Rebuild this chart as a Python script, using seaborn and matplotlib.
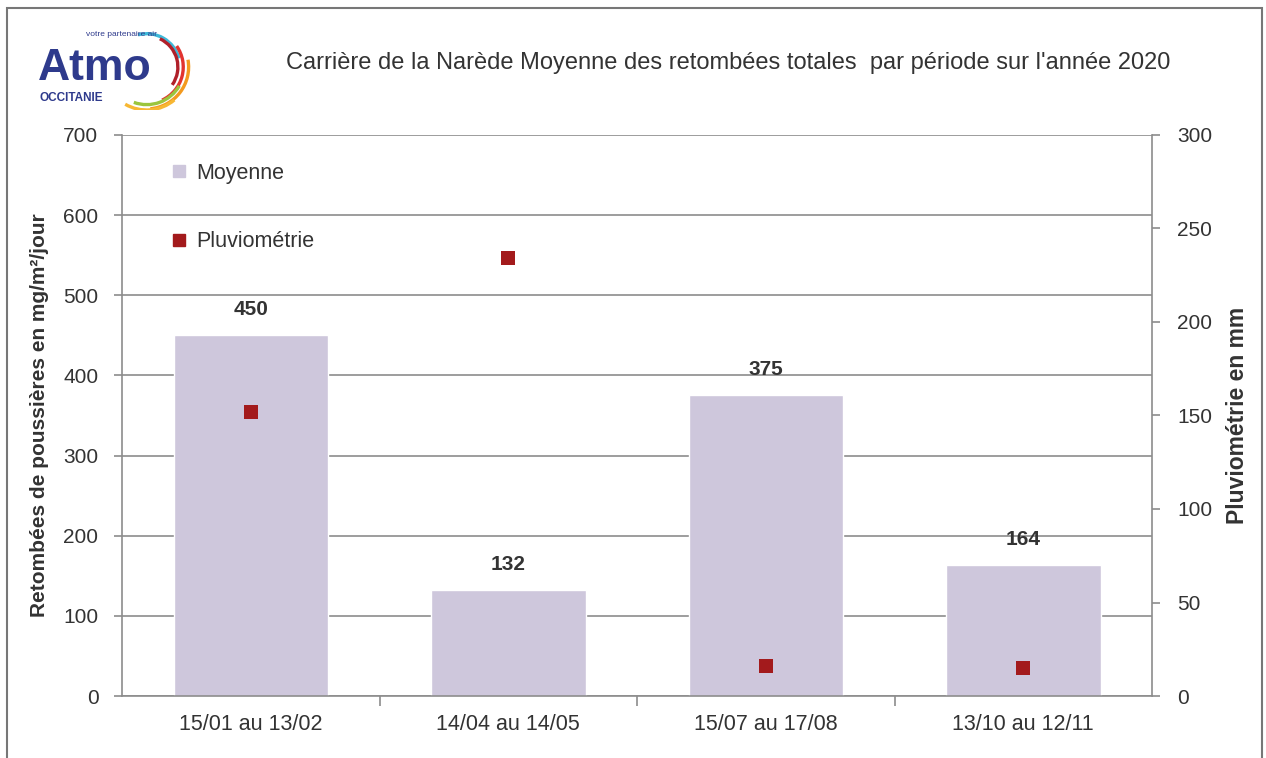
import numpy as np
import pandas as pd
import matplotlib.pyplot as plt
import seaborn as sns
from matplotlib.patches import Arc, Rectangle
from matplotlib.lines import Line2D

# Data
periodes = ["15/01 au 13/02", "14/04 au 14/05", "15/07 au 17/08", "13/10 au 12/11"]
moyenne = [450, 132, 375, 164]
pluviometrie = [152, 234, 16, 15]

BAR_COLOR = "#CEC7DC"
RAIN_COLOR = "#A31A1C"
AXIS_GREY = "#8C8C8C"
TEXT_GREY = "#333333"

sns.set_theme(style="white")
plt.rcParams['font.family'] = ['Liberation Sans', 'DejaVu Sans']

df = pd.DataFrame({"periode": periodes, "moyenne": moyenne, "pluie": pluviometrie})

fig = plt.figure(figsize=(12.66, 7.58), dpi=100)
ax = fig.add_axes([122 / 1266, 1 - 696 / 758, (1152 - 122) / 1266, (696 - 135) / 758])

sns.barplot(data=df, x="periode", y="moyenne", color=BAR_COLOR, width=0.6,
            saturation=1, ax=ax, zorder=2)
ax.set_ylim(0, 700)
ax.set_yticks(range(0, 701, 100))
ax.set_axisbelow(True)
ax.yaxis.grid(True, color=AXIS_GREY, linewidth=1.2)
ax.xaxis.grid(False)
ax.set_xlim(-0.5, 3.5)
for s in ["top", "right"]:
    ax.spines[s].set_visible(False)
for s in ["left", "bottom"]:
    ax.spines[s].set_color(AXIS_GREY)
    ax.spines[s].set_linewidth(1.2)

# category boundary ticks on the x axis
ax.set_xticks([0.5, 1.5, 2.5], minor=True)
ax.tick_params(axis="x", which="major", length=0, labelsize=15.5, labelcolor=TEXT_GREY, pad=13)
ax.tick_params(axis="x", which="minor", length=7, color=AXIS_GREY, width=1.2, direction="out", bottom=True)
ax.tick_params(axis="y", length=6, color=AXIS_GREY, width=1.2, direction="out", left=True,
               labelsize=15, labelcolor=TEXT_GREY, pad=11)
ax.set_xlabel("")
ax.set_ylabel("Retombées de poussières en mg/m²/jour", fontsize=15, fontweight="bold",
              color=TEXT_GREY, labelpad=10)

for i, v in enumerate(moyenne):
    ax.text(i, v + 20, str(v), ha="center", va="bottom", fontsize=15, fontweight="bold", color=TEXT_GREY)

ax2 = ax.twinx()
sns.scatterplot(x=np.arange(len(periodes)), y=pluviometrie, marker="s", s=95, color=RAIN_COLOR,
                edgecolor=RAIN_COLOR, linewidth=0, ax=ax2, zorder=5)
ax2.set_ylim(0, 300)
ax2.set_yticks(range(0, 301, 50))
ax2.set_xlim(-0.5, 3.5)
for s in ["top", "left", "bottom"]:
    ax2.spines[s].set_visible(False)
ax2.spines["right"].set_color(AXIS_GREY)
ax2.spines["right"].set_linewidth(1.2)
ax2.tick_params(axis="y", length=6, color=AXIS_GREY, width=1.2, direction="out", right=True,
                labelsize=15, labelcolor=TEXT_GREY, pad=12)
ax2.set_ylabel("Pluviométrie en mm", fontsize=16.5, fontweight="bold", color=TEXT_GREY, labelpad=10)
ax2.grid(False)

handles = [
    Line2D([], [], marker="s", linestyle="", markersize=8, color=BAR_COLOR),
    Line2D([], [], marker="s", linestyle="", markersize=8, color=RAIN_COLOR),
]
leg = ax2.legend(handles, ["Moyenne", "Pluviométrie"], loc="upper left", bbox_to_anchor=(0.03, 0.985),
                 frameon=False, fontsize=15.5, labelspacing=2.2, handlelength=0.6, handletextpad=0.5,
                 labelcolor=TEXT_GREY)

fig.text(728 / 1266, 1 - 63 / 758, "Carrière de la Narède Moyenne des retombées totales  par période sur l'année 2020",
         ha="center", va="center", fontsize=17, color=TEXT_GREY)

# Atmo Occitanie logo (approximation)
fig.text(38 / 1266, 1 - 68 / 758, "Atmo", ha="left", va="center", fontsize=32, fontweight="bold",
         color="#2E3A8C")
fig.text(40 / 1266, 1 - 98 / 758, "OCCITANIE", ha="left", va="center", fontsize=8.5, fontweight="bold",
         color="#2E3A8C")
fig.text(86 / 1266, 1 - 35 / 758, "votre partenaire air", ha="left", va="center", fontsize=6,
         color="#2E3A8C")
logo = fig.add_axes([108 / 1266, 1 - 110 / 758, 86 / 1266, 86 / 758])
logo.set_xlim(-1, 1)
logo.set_ylim(-1, 1)
logo.axis("off")
arcs = [
    (1.55, 15, 105, "#3EB8D8"),
    (1.45, -35, 65, "#B0202A"),
    (1.70, -65, 35, "#E2342F"),
    (1.95, -85, 10, "#F39A1F"),
    (1.75, -110, -30, "#9BC53D"),
    (2.00, -120, -50, "#F7B733"),
]
for d, t1, t2, c in arcs:
    logo.add_patch(Arc((-0.1, 0.0), d, d, theta1=t1, theta2=t2, color=c, linewidth=2.4))

# picture frame
fig.patches.append(Rectangle((7 / 1266, -0.05), (1262 - 7) / 1266, 1.05 - 8 / 758,
                             transform=fig.transFigure, fill=False, edgecolor="#777777", linewidth=1.5))

fig.savefig("out.png", dpi=100)
